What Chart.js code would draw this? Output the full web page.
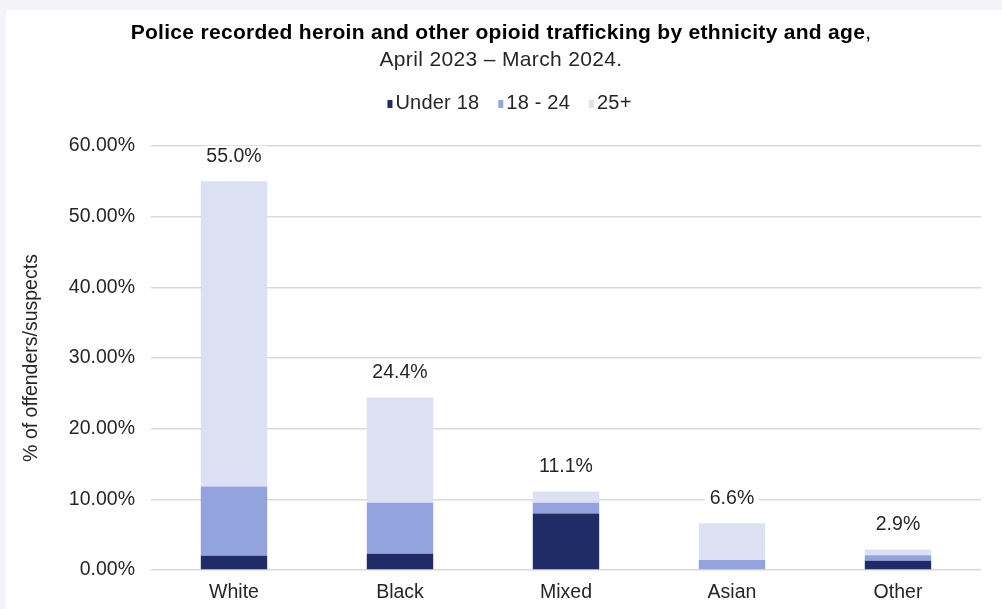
<!DOCTYPE html>
<html>
<head>
<meta charset="utf-8">
<title>Heroin and opioid trafficking by ethnicity and age</title>
<script src="https://cdn.jsdelivr.net/npm/chart.js@4/dist/chart.umd.min.js"></script>
<style>
  html, body { margin: 0; padding: 0; background: #f4f3f8; }
  #panel { position: absolute; left: 6px; top: 10px; width: 996px; height: 599px; background: #ffffff; }
</style>
</head>
<body>
<div id="panel"><canvas id="chart"></canvas></div>
<script>
// Ethnic groups on the x axis
const categories = ['White', 'Black', 'Mixed', 'Asian', 'Other'];

// Share of offenders/suspects (%) in each age band
const under18 = [2.0, 2.3, 8.0, 0.0, 1.3];
const age18to24 = [9.8, 7.2, 1.5, 1.4, 0.8];
const age25plus = [43.2, 14.9, 1.6, 5.2, 0.8];

const seriesNames = ['Under 18', '18 - 24', '25+'];
const seriesColors = ['#1f2c66', '#93a3dd', '#dbe0f3'];

const yTicks = [0, 10, 20, 30, 40, 50, 60];

const titleBold = 'Police recorded heroin and other opioid trafficking by ethnicity and age';
const titleTail = ',';
const subtitle = 'April 2023 \u2013 March 2024.';
const yAxisTitle = '% of offenders/suspects';

const FONT = "'Liberation Sans', Arial, sans-serif";
const TEXT = '#262626';

// Header: title, subtitle and legend drawn at the top of the canvas
const headerPlugin = {
  id: 'header',
  afterDraw(chart) {
    const ctx = chart.ctx;
    ctx.save();
    ctx.fillStyle = '#000000';
    ctx.textBaseline = 'middle';
    ctx.textAlign = 'left';
    ctx.letterSpacing = '0.3px';
    const cx = 495;
    ctx.font = 'bold 21px ' + FONT;
    const wb = ctx.measureText(titleBold).width;
    ctx.font = '21px ' + FONT;
    const wt = ctx.measureText(titleTail).width;
    let x = cx - (wb + wt) / 2;
    ctx.font = 'bold 21px ' + FONT;
    ctx.fillText(titleBold, x, 23);
    ctx.font = '21px ' + FONT;
    ctx.fillText(titleTail, x + wb, 23);
    ctx.fillStyle = TEXT;
    ctx.letterSpacing = '0.35px';
    const ws = ctx.measureText(subtitle).width;
    ctx.fillText(subtitle, cx - ws / 2, 50);

    // legend
    ctx.font = '20px ' + FONT;
    ctx.letterSpacing = '0.2px';
    const boxW = 5, boxH = 8, gapText = 3, gapItem = 19;
    const items = chart.data.datasets.map(d => ({ label: d.label, color: d.backgroundColor }));
    const widths = items.map(it => boxW + gapText + ctx.measureText(it.label).width);
    const total = widths.reduce((a, b) => a + b, 0) + gapItem * (items.length - 1);
    let lx = 503.5 - total / 2;
    const ly = 93;
    items.forEach((it, i) => {
      ctx.fillStyle = it.color;
      ctx.fillRect(lx, ly - boxH / 2 + 1, boxW, boxH);
      ctx.fillStyle = TEXT;
      ctx.fillText(it.label, lx + boxW + gapText, ly);
      lx += widths[i] + gapItem;
    });
    ctx.restore();
  }
};

// Totals above each stacked bar, on a white backing
const totalsPlugin = {
  id: 'totals',
  afterDatasetsDraw(chart) {
    const ctx = chart.ctx;
    const lastMeta = chart.getDatasetMeta(chart.data.datasets.length - 1);
    ctx.save();
    ctx.font = '19.5px ' + FONT;
    ctx.textAlign = 'center';
    ctx.textBaseline = 'middle';
    categories.forEach((c, i) => {
      const total = chart.data.datasets.reduce((s, d) => s + d.data[i], 0);
      const label = total.toFixed(1) + '%';
      const el = lastMeta.data[i];
      const y = el.y - 24.5;
      const w = ctx.measureText(label).width + 10;
      ctx.fillStyle = '#ffffff';
      ctx.fillRect(el.x - w / 2, y - 11, w, 22);
      ctx.fillStyle = TEXT;
      ctx.fillText(label, el.x, y);
    });
    ctx.restore();
  }
};

new Chart(document.getElementById('chart'), {
  type: 'bar',
  data: {
    labels: categories,
    datasets: [
      { label: seriesNames[0], data: under18, backgroundColor: seriesColors[0] },
      { label: seriesNames[1], data: age18to24, backgroundColor: seriesColors[1] },
      { label: seriesNames[2], data: age25plus, backgroundColor: seriesColors[2] }
    ]
  },
  options: {
    responsive: true,
    maintainAspectRatio: false,
    animation: false,
    layout: { padding: { top: 136, right: 21, bottom: 6, left: 0 } },
    datasets: { bar: { categoryPercentage: 1, barPercentage: 0.4, borderWidth: 0 } },
    plugins: {
      legend: { display: false },
      tooltip: { enabled: false }
    },
    scales: {
      x: {
        stacked: true,
        afterFit(scale) { scale.height = 33; },
        grid: { display: false, drawTicks: false },
        border: { display: false },
        ticks: { color: TEXT, font: { family: FONT, size: 19.5 }, padding: 11 }
      },
      y: {
        stacked: true,
        min: 0,
        max: 60,
        afterBuildTicks(scale) { scale.ticks = yTicks.map(v => ({ value: v })); },
        afterFit(scale) { scale.width = 145; },
        grid: { color: '#d9d9d9', lineWidth: 1.5, drawTicks: false },
        border: { display: false },
        ticks: {
          color: TEXT,
          font: { family: FONT, size: 19.5 },
          padding: 16,
          callback: v => v.toFixed(2) + '%'
        },
        title: {
          display: true,
          text: yAxisTitle,
          color: TEXT,
          font: { family: FONT, size: 19.5 },
          padding: { top: 14, bottom: 0 }
        }
      }
    }
  },
  plugins: [headerPlugin, totalsPlugin]
});
</script>
</body>
</html>
